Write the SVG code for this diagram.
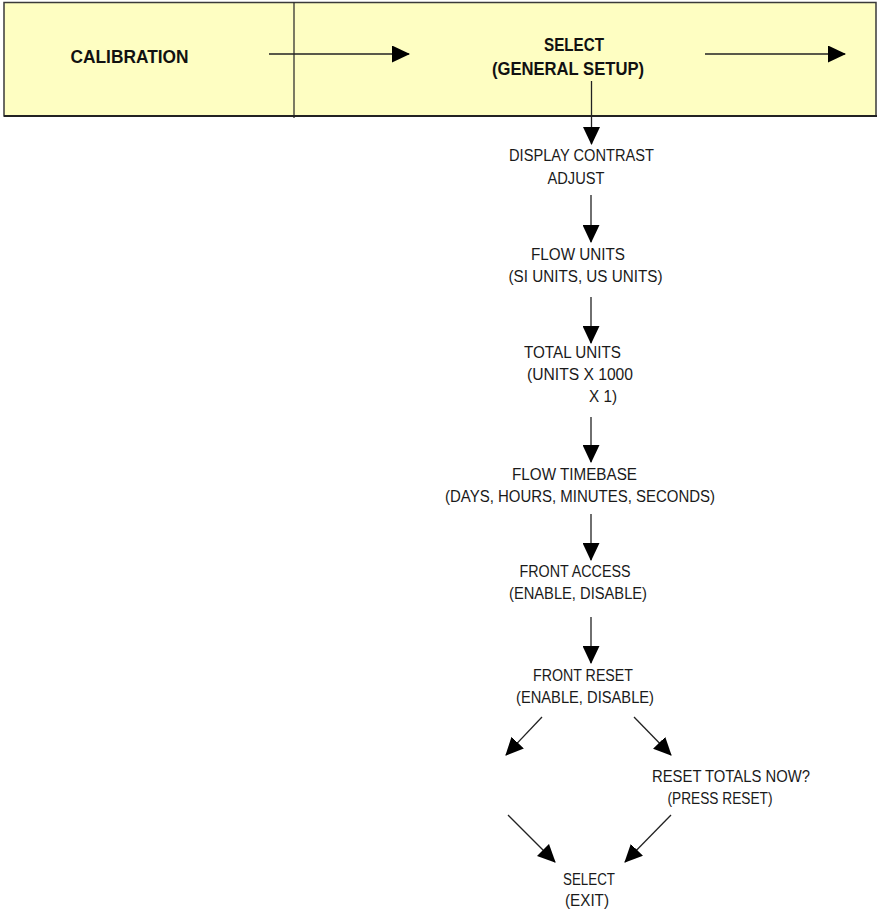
<svg xmlns="http://www.w3.org/2000/svg" width="877" height="911" viewBox="0 0 877 911">
<style>
.t{font-family:"Liberation Sans",Arial,sans-serif;font-size:16px;fill:#1a1a1a;text-anchor:middle}
.b{font-family:"Liberation Sans",Arial,sans-serif;font-size:18.5px;font-weight:bold;fill:#111;text-anchor:middle}
.c{stroke:#222;stroke-width:1.3;fill:none;marker-end:url(#ah)}
</style>
<defs>
<marker id="ah" viewBox="0 0 18 17" refX="17" refY="8.5" markerWidth="18" markerHeight="17" markerUnits="userSpaceOnUse" orient="auto">
<path d="M0,0 L18,8.5 L0,17 z" fill="#000"/>
</marker>
</defs>
<rect width="877" height="911" fill="#fff"/>
<g id="header">
<rect x="4" y="2.5" width="872" height="113.5" fill="#FEFEC2" stroke="#3a3a3a" stroke-width="1.5"/>
<line x1="4" y1="116" x2="877" y2="116" stroke="#222" stroke-width="2"/>
<line x1="294" y1="2.5" x2="294" y2="118" stroke="#222" stroke-width="1.2"/>
</g>
<g id="calibration"><text class="b" x="129.5" y="63" textLength="118" lengthAdjust="spacingAndGlyphs">CALIBRATION</text></g>
<g id="select-general"><text class="b" x="574" y="50.5" textLength="60" lengthAdjust="spacingAndGlyphs">SELECT</text><text class="b" x="568" y="75" textLength="152" lengthAdjust="spacingAndGlyphs">(GENERAL SETUP)</text></g>
<g id="display-contrast"><text class="t" x="581.5" y="161" textLength="145" lengthAdjust="spacingAndGlyphs">DISPLAY CONTRAST</text><text class="t" x="576" y="184" textLength="57" lengthAdjust="spacingAndGlyphs">ADJUST</text></g>
<g id="flow-units"><text class="t" x="578" y="260" textLength="94" lengthAdjust="spacingAndGlyphs">FLOW UNITS</text><text class="t" x="585.5" y="282" textLength="154" lengthAdjust="spacingAndGlyphs">(SI UNITS, US UNITS)</text></g>
<g id="total-units"><text class="t" x="572.5" y="358" textLength="97" lengthAdjust="spacingAndGlyphs">TOTAL UNITS</text><text class="t" x="580" y="380" textLength="106" lengthAdjust="spacingAndGlyphs">(UNITS X 1000</text><text class="t" x="603" y="402" textLength="28" lengthAdjust="spacingAndGlyphs">X 1)</text></g>
<g id="flow-timebase"><text class="t" x="574.5" y="480" textLength="125" lengthAdjust="spacingAndGlyphs">FLOW TIMEBASE</text><text class="t" x="580" y="502" textLength="270" lengthAdjust="spacingAndGlyphs">(DAYS, HOURS, MINUTES, SECONDS)</text></g>
<g id="front-access"><text class="t" x="575" y="577" textLength="111" lengthAdjust="spacingAndGlyphs">FRONT ACCESS</text><text class="t" x="578" y="599" textLength="138" lengthAdjust="spacingAndGlyphs">(ENABLE, DISABLE)</text></g>
<g id="front-reset"><text class="t" x="583" y="681" textLength="100" lengthAdjust="spacingAndGlyphs">FRONT RESET</text><text class="t" x="585" y="703" textLength="138" lengthAdjust="spacingAndGlyphs">(ENABLE, DISABLE)</text></g>
<g id="reset-totals"><text class="t" x="731" y="782" textLength="158" lengthAdjust="spacingAndGlyphs">RESET TOTALS NOW?</text><text class="t" x="720" y="804" textLength="105" lengthAdjust="spacingAndGlyphs">(PRESS RESET)</text></g>
<g id="select-exit"><text class="t" x="589" y="885" textLength="52" lengthAdjust="spacingAndGlyphs">SELECT</text><text class="t" x="587" y="906" textLength="44" lengthAdjust="spacingAndGlyphs">(EXIT)</text></g>
<g id="connectors">
<line class="c" x1="269" y1="54" x2="409" y2="54"/>
<line class="c" x1="705" y1="54" x2="845" y2="54"/>
<line class="c" x1="591.5" y1="81" x2="591.5" y2="144"/>
<line class="c" x1="591" y1="195" x2="591" y2="242"/>
<line class="c" x1="591" y1="297" x2="591" y2="343"/>
<line class="c" x1="591" y1="417" x2="591" y2="462"/>
<line class="c" x1="591" y1="514" x2="591" y2="560"/>
<line class="c" x1="591" y1="617" x2="591" y2="663"/>
<line class="c" x1="542" y1="717" x2="506" y2="755"/>
<line class="c" x1="634" y1="717" x2="671" y2="755"/>
<line class="c" x1="508" y1="815" x2="555" y2="862"/>
<line class="c" x1="671" y1="815" x2="625" y2="862"/>
</g>
</svg>
